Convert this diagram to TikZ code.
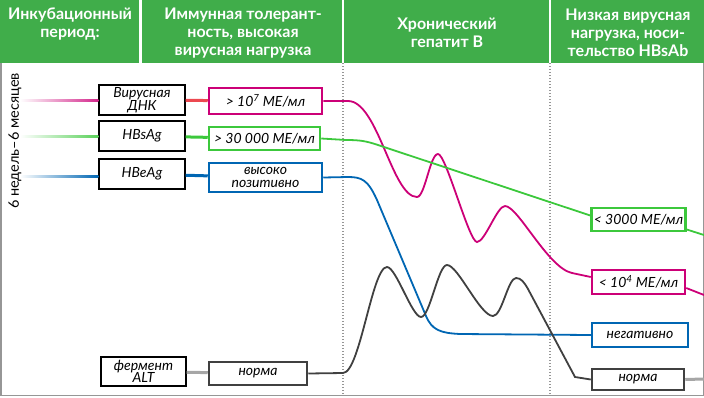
\documentclass[tikz,border=0pt]{standalone}
\usepackage{fontspec}
\setmainfont{Lato}
\usetikzlibrary{positioning}
\definecolor{hdrgreen}{RGB}{64,173,74}
\definecolor{dnacol}{RGB}{204,0,119}
\definecolor{hbscol}{RGB}{60,200,60}
\definecolor{hbecol}{RGB}{0,102,179}
\definecolor{altcol}{RGB}{64,64,64}
\definecolor{linkred}{RGB}{236,72,80}
\definecolor{framegray}{RGB}{150,150,150}

\begin{document}
\begin{tikzpicture}[x=1pt, y=-1pt,
  labelbox/.style={draw, line width=1.2pt, minimum width=86pt, minimum height=30pt,
    inner sep=1pt, align=center, font=\itshape\fontsize{14}{12.5}\selectfont},
  valbox/.style={draw, line width=2.5pt, inner sep=1pt, align=center,
    font=\itshape\fontsize{14}{12.5}\selectfont},
  head/.style={text=white, align=center, font=\bfseries\fontsize{16}{18}\selectfont},
  curve/.style={line width=1.8pt},
  link/.style={line width=3pt}]

  \useasboundingbox (0,0) rectangle (704,397);

  \fill[hdrgreen] (0,0) rectangle (704,63);
  \draw[white, line width=2.5pt] (140.5,0) -- (140.5,63) (343,0) -- (343,63) (550,0) -- (550,63);
  \node[head] (hinc) at (70,24) {Инкубационный\\период:};
  \node[head] (himm) at (243,33) {Иммунная толерант-\\ность, высокая\\вирусная нагрузка};
  \node[head] (hchr) at (447,33) {Хронический\\гепатит В};
  \node[head] (hlow) at (628,33) {Низкая вирусная\\нагрузка, носи-\\тельство HBsAb};

  \draw[framegray, line width=1.5pt] (0.75,63) -- (0.75,395.5) -- (703.25,395.5) -- (703.25,63);
  \draw[framegray, line width=1.3pt, dash pattern=on 1.3pt off 1.7pt] (343,63) -- (343,395) (550,63) -- (550,395);

  \node[rotate=90, font=\fontsize{14.5}{14}\selectfont] (period) at (15,141) {6 недель–6 месяцев};

  \node[labelbox] (dna) at (142,100) {Вирусная\\ДНК};
  \node[labelbox] (hbsag) at (142,136) {HBsAg};
  \node[labelbox] (hbeag) at (142,174) {HBeAg};
  \node[labelbox, minimum width=85pt, minimum height=29pt] (alt) at (143.5,371.5) {фермент\\ALT};

  \node[valbox, dnacol, text=black, minimum width=113pt, minimum height=26pt] (dnahi) at (265.5,101) {> 10\textsuperscript{7} МЕ/мл};
  \node[valbox, hbscol, text=black, minimum width=111pt, minimum height=23pt] (hbsaghi) at (264.5,138.5) {> 30 000 МЕ/мл};
  \node[valbox, hbecol, text=black, minimum width=113pt, minimum height=29pt] (hbeaghi) at (265.5,177.5) {высоко\\позитивно};
  \node[valbox, altcol, text=black, minimum width=98pt, minimum height=23pt] (althi) at (258,373.5) {норма};

  \node[valbox, hbscol, text=black, minimum width=94pt, minimum height=23pt] (hbsaglo) at (638.5,219.5) {< 3000 МЕ/мл};
  \node[valbox, dnacol, text=black, minimum width=93pt, minimum height=24pt] (dnalo) at (638.5,282) {< 10\textsuperscript{4} МЕ/мл};
  \node[valbox, hbecol, text=black, minimum width=96pt, minimum height=24pt] (hbeaglo) at (640,335) {негативно};
  \node[valbox, altcol, text=black, minimum width=92pt, minimum height=21pt] (altlo) at (638,379.5) {норма};

  \coordinate (dnastart) at (20,100);
  \coordinate (hbsstart) at (20,136);
  \coordinate (hbestart) at (20,176);
  \coordinate (dnaend) at (704,295);
  \coordinate (hbsend) at (704,235);
  \coordinate (altend) at (704,379);

  \shade[left color=white, middle color=dnacol!25, right color=dnacol!85] ([yshift=1pt]dnastart) rectangle ([yshift=-1pt]dna.west);
  \shade[left color=white, middle color=hbscol!25, right color=hbscol!85] ([yshift=1pt]hbsstart) rectangle ([yshift=-1pt]hbsag.west |- hbsstart);
  \shade[left color=white, middle color=hbecol!25, right color=hbecol] ([yshift=1pt]hbestart) rectangle ([yshift=-1pt]hbeag.west |- hbestart);

  \draw[link, linkred] (dna) -- (dnahi);
  \draw[link, hbscol] (hbsag) -- (hbsaghi);
  \draw[link, hbecol] (hbeag) -- (hbeaghi);
  \draw[link, gray!70] (alt) -- (althi);

  \draw[curve, dnacol] (dnahi.east) -- (348,101) .. controls (378,101) and (392,197) .. (417,197)
    .. controls (425,197) and (430,154) .. (438,154) .. controls (446,154) and (469,242) .. (477,242)
    .. controls (485,242) and (497,206) .. (505,206) .. controls (518,206) and (548,268) .. (572,273)
    -- ([yshift=5pt]dnalo.west);
  \draw[curve, dnacol] ([yshift=-6pt]dnalo.east) -- (dnaend);

  \draw[curve, hbscol] (hbsaghi.east) -- (346,140) .. controls (360,140) and (366,141) .. (378,145)
    -- ([yshift=4pt]hbsaglo.west);
  \draw[curve, hbscol] ([yshift=-10pt]hbsaglo.east) -- (hbsend);

  \draw[curve, hbecol] (hbeaghi.east) -- (348,177) .. controls (362,177) and (368,180) .. (377,200)
    -- (426,316) .. controls (432,330) and (440,333) .. (460,334) -- (hbeaglo.west);

  \draw[curve, altcol] (althi.east) -- (343,373) .. controls (360,373) and (372,267) .. (387,267)
    .. controls (396,267) and (412,317) .. (421,317) .. controls (430,317) and (438,265) .. (447,265)
    .. controls (458,265) and (480,316) .. (493,316) .. controls (502,316) and (508,278) .. (516,278)
    .. controls (521,278) and (524,282) .. (528,289) -- (575,377) -- (altlo.west);
  \draw[link, gray!70] (altlo.east) -- (altend);
\end{tikzpicture}
\end{document}
